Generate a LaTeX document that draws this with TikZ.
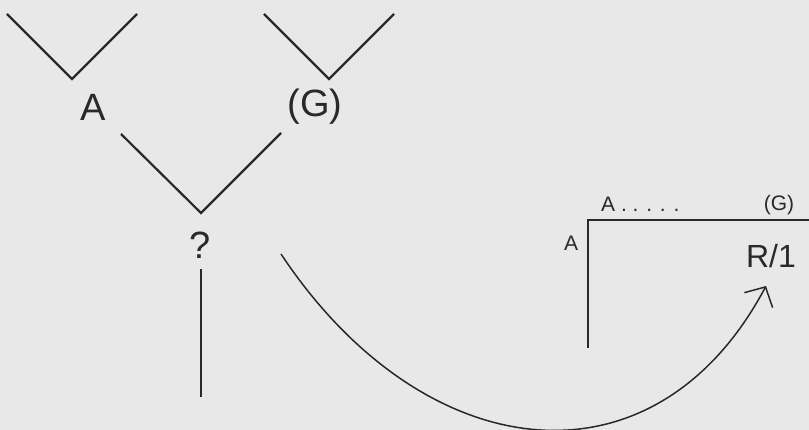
\documentclass[tikz,border=0pt]{standalone}
\usepackage{fontspec}
\setmainfont{Liberation Sans}
\usetikzlibrary{arrows.meta}
\definecolor{paper}{gray}{0.91}
\definecolor{ink}{gray}{0.16}
\begin{document}
\begin{tikzpicture}[x=1pt,y=-1pt,
    every node/.style={text=ink,inner sep=0pt},
    big/.style={font=\fontsize{38}{40}\selectfont},
    mid/.style={font=\fontsize{32}{34}\selectfont},
    lbl/.style={font=\fontsize{21}{23}\selectfont},
    tree/.style={draw=ink,line width=2.2pt},
    bar/.style={draw=ink,line width=1.8pt},
    swing/.style={draw=ink,line width=1.5pt,-{Straight Barb[length=15pt,width=32pt]}}]
    \fill[paper] (0,0) rectangle (809,430);
    \useasboundingbox (0,0) rectangle (809,430);
    % left: the tree
    \foreach \x in {7,264}
        \draw[tree] (\x,14) -- ++(65,65) -- ++(65,-65);
    \node[big] (a) at (93,107) {A};
    \node[big] (g) at (315,107) {(G)};
    \node[big] (q) at (200,245) {?};
    \coordinate (fork) at (201,213);
    \coordinate (stem) at (201,397);
    \draw[tree] (121,134) -- (fork) -- (281,133);
    \draw[tree] (201,269) -- (stem);
    % right: the box
    \coordinate (corner) at (588,220);
    \draw[bar] (588,348) -- (corner) -- (809,220);
    \node[lbl,anchor=west] (top) at (601,204) {A . . . . .};
    \node[lbl] (gs) at (779,205) {(G)};
    \node[lbl] (side) at (571,243) {A};
    \node[mid] (r) at (771,256) {R/1};
    \coordinate (from) at (281,254);
    \coordinate (tip) at (766,286);
    \draw[swing] (from) .. controls (423,468) and (654,497) .. (tip);
\end{tikzpicture}
\end{document}
